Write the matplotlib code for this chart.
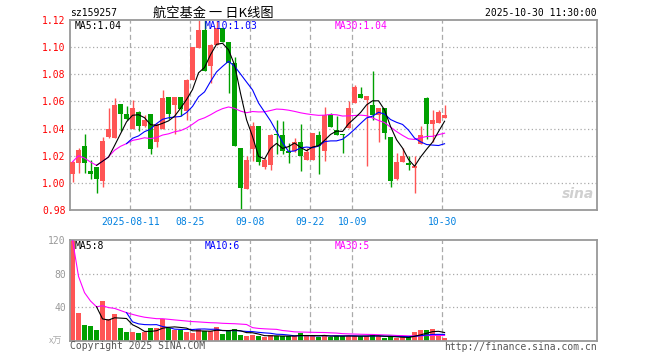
import numpy as np
import pandas as pd
import matplotlib
matplotlib.use("Agg")
import matplotlib.pyplot as plt

plt.rcParams["font.family"] = ["DejaVu Sans Mono", "Noto Sans CJK SC"]

# daily K data (2025-07-28 .. 2025-10-30)
opens = [1.0067, 1.0147, 1.0270, 1.0086, 1.0116, 1.0015, 1.0336, 1.0331, 1.0579, 1.0505,
         1.0400, 1.0525, 1.0417, 1.0505, 1.0299, 1.0397, 1.0630, 1.0571, 1.0630, 1.0532,
         1.0760, 1.0993, 1.1123, 1.0858, 1.1017, 1.1140, 1.1037, 1.0882, 1.0255, 0.9956,
         1.0250, 1.0417, 1.0118, 1.0130, 1.0358, 1.0356, 1.0234, 1.0233, 1.0304, 1.0172,
         1.0172, 1.0356, 1.0238, 1.0498, 1.0388, 1.0358, 1.0405, 1.0588, 1.0652, 1.0613,
         1.0576, 1.0503, 1.0552, 1.0339, 1.0025, 1.0155, 1.0145, 1.0111, 1.0290, 1.0628,
         1.0437, 1.0441, 1.0478]
closes = [1.0155, 1.0245, 1.0147, 1.0067, 1.0030, 1.0307, 1.0397, 1.0571, 1.0505, 1.0468,
          1.0549, 1.0417, 1.0461, 1.0250, 1.0437, 1.0628, 1.0508, 1.0630, 1.0544, 1.0760,
          1.0998, 1.1123, 1.0826, 1.1017, 1.1140, 1.1037, 1.0882, 1.0270, 0.9964, 1.0172,
          1.0417, 1.0155, 1.0172, 1.0356, 1.0353, 1.0233, 1.0221, 1.0304, 1.0196, 1.0231,
          1.0368, 1.0270, 1.0503, 1.0412, 1.0356, 1.0353, 1.0552, 1.0706, 1.0625, 1.0637,
          1.0503, 1.0552, 1.0368, 1.0013, 1.0152, 1.0196, 1.0128, 1.0123, 1.0353, 1.0437,
          1.0461, 1.0520, 1.0500]
highs = [1.0160, 1.0255, 1.0363, 1.0167, 1.0116, 1.0339, 1.0549, 1.0623, 1.0582, 1.0564,
         1.0608, 1.0527, 1.0498, 1.0507, 1.0440, 1.0682, 1.0632, 1.0632, 1.0632, 1.0762,
         1.1000, 1.1200, 1.1200, 1.1020, 1.1189, 1.1142, 1.1040, 1.0931, 1.0257, 1.0196,
         1.0446, 1.0419, 1.0184, 1.0358, 1.0466, 1.0459, 1.0294, 1.0329, 1.0437, 1.0258,
         1.0370, 1.0380, 1.0559, 1.0515, 1.0490, 1.0360, 1.0601, 1.0723, 1.0706, 1.0640,
         1.0821, 1.0554, 1.0554, 1.0341, 1.0221, 1.0258, 1.0196, 1.0196, 1.0417, 1.0630,
         1.0539, 1.0539, 1.0576]
lows = [1.0005, 1.0074, 1.0074, 1.0032, 0.9927, 0.9971, 1.0334, 1.0329, 1.0380, 1.0466,
        1.0398, 1.0380, 1.0415, 1.0214, 1.0263, 1.0395, 1.0471, 1.0363, 1.0490, 1.0466,
        1.0758, 1.0991, 1.0824, 1.0735, 1.1015, 1.1035, 1.0662, 1.0268, 0.9804, 0.9954,
        1.0160, 1.0130, 1.0103, 1.0098, 1.0209, 1.0209, 1.0147, 1.0231, 1.0086, 1.0170,
        1.0170, 1.0062, 1.0160, 1.0410, 1.0354, 1.0220, 1.0403, 1.0586, 1.0623, 1.0123,
        1.0466, 1.0300, 1.0324, 0.9971, 1.0023, 1.0153, 1.0094, 0.9927, 1.0288, 1.0324,
        1.0300, 1.0439, 1.0476]
volumes = [120, 33, 18.4, 17.2, 12.8, 47.6, 26, 32, 15.2, 10.4,
           10.4, 8.8, 9.6, 15.2, 14.4, 25.2, 14.4, 12, 12, 10.4,
           9.2, 14, 11, 11, 16, 8, 13, 14, 7, 5,
           7, 5.6, 4.4, 6, 4.8, 5.6, 5.6, 4.8, 8.8, 4.8,
           5.6, 4.4, 6.8, 4.4, 5.6, 4.8, 5.6, 5.6, 4.8, 5.6,
           6, 5.6, 3.2, 4, 3.2, 4, 4, 10, 12.5, 12.5,
           13.8, 6, 2.8]

tick_idx = [10, 20, 30, 40, 47, 62]
tick_labels = ["2025-08-11", "08-25", "09-08", "09-22", "10-09", "10-30"]

price_ma_text = ["MA5:1.04", "MA10:1.03", "MA30:1.04"]
vol_ma_text = ["MA5:8", "MA10:6", "MA30:5"]

RED = "#ff5555"
GREEN = "#00a000"
GRID = "#aaaaaa"
FRAME = "#999999"
MA_COLORS = ["black", "#0000ff", "#ff00ff"]

df = pd.DataFrame({"open": opens, "high": highs, "low": lows, "close": closes, "vol": volumes})
x = np.arange(len(df))
up = df["close"] >= df["open"]
colors = np.where(up, RED, GREEN)

W, H = 660, 360
fig = plt.figure(figsize=(W / 100, H / 100), dpi=100)


def fx(px):
    return px / W


def fy(py):
    return 1 - py / H


ax = fig.add_axes([fx(70), fy(210), fx(527), 190 / H])
axv = fig.add_axes([fx(70), fy(340.5), fx(527), 100.5 / H])

xlim = (-0.42, 87.4)
grid_x = [i - 0.35 for i in tick_idx]

# --- price panel ---
for yv in [1.00, 1.02, 1.04, 1.06, 1.08, 1.10]:
    ax.axhline(yv, color=GRID, lw=0.9, ls=(0, (1, 2)), zorder=0)
for gx in grid_x:
    ax.axvline(gx, color=GRID, lw=0.9, ls=(0, (4, 2.5)), zorder=0)

ax.vlines(x, df["low"], df["high"], colors=colors, lw=1.0, zorder=2)
body = (df["close"] - df["open"]).abs().clip(lower=0.0004)
ax.bar(x, body, bottom=df[["open", "close"]].min(axis=1), width=0.8,
       color=colors, linewidth=0, zorder=3)

ma5 = df["close"].rolling(5).mean()
ma10 = df["close"].rolling(10).mean()
ma30 = df["close"].rolling(30, min_periods=1).mean()
for s, c in zip([ma30, ma10, ma5], MA_COLORS[::-1]):
    ax.plot(x, s, color=c, lw=0.8, zorder=4)

ax.set_xlim(*xlim)
ax.set_ylim(0.98, 1.12)
ax.set_yticks([0.98, 1.00, 1.02, 1.04, 1.06, 1.08, 1.10, 1.12])
ax.set_yticklabels([f"{v:.2f}" for v in ax.get_yticks()])
ax.set_xticks(grid_x)
ax.set_xticklabels(tick_labels)
ax.tick_params(axis="y", colors="red", labelsize=7, length=0, pad=3)
ax.tick_params(axis="x", colors="#0080e0", labelsize=7, length=0, pad=5)
for sp in ax.spines.values():
    sp.set_color(FRAME)
    sp.set_linewidth(1.3)

for txt, px, c in zip(price_ma_text, [75, 205, 335], MA_COLORS):
    fig.text(fx(px), fy(26), txt, color=c, fontsize=7, va="center", ha="left")

ax.text(0.995, 0.05, "sina", transform=ax.transAxes, ha="right", va="bottom",
        fontsize=10, fontstyle="italic", fontweight="bold", color="#d0d0d0",
        family="DejaVu Sans", zorder=1)

# --- volume panel ---
for yv in [40, 80]:
    axv.axhline(yv, color=GRID, lw=0.9, ls=(0, (1, 2)), zorder=0)
for gx in grid_x:
    axv.axvline(gx, color=GRID, lw=0.9, ls=(0, (4, 2.5)), zorder=0)

axv.bar(x, df["vol"], width=0.8, color=colors, linewidth=0, zorder=2)
vma5 = df["vol"].rolling(5).mean()
vma10 = df["vol"].rolling(10).mean()
vma30 = df["vol"].rolling(30, min_periods=1).mean()
for s, c in zip([vma30, vma10, vma5], MA_COLORS[::-1]):
    axv.plot(x, s, color=c, lw=0.8, zorder=3)

axv.set_xlim(*xlim)
axv.set_ylim(0, 120)
axv.set_yticks([40, 80, 120])
axv.set_yticklabels(["40", "80", "120"])
axv.set_xticks([])
axv.tick_params(axis="y", colors="#999999", labelsize=7, length=0, pad=3)
for sp in axv.spines.values():
    sp.set_color(FRAME)
    sp.set_linewidth(1.3)

for txt, px, c in zip(vol_ma_text, [75, 205, 335], MA_COLORS):
    fig.text(fx(px), fy(246), txt, color=c, fontsize=7, va="center", ha="left")

# --- header / footer texts ---
fig.text(fx(70), fy(13), "sz159257", fontsize=7, va="center", ha="left")
fig.text(fx(213), fy(13), "航空基金 一 日K线图", fontsize=9.5, va="center", ha="center",
         family=["Noto Sans CJK SC", "DejaVu Sans"])
fig.text(fx(597), fy(13), "2025-10-30 11:30:00", fontsize=7, va="center", ha="right")
fig.text(fx(49), fy(341), "x万", fontsize=6.5, va="center", ha="left", color="#aaaaaa",
         family=["Noto Sans CJK SC", "DejaVu Sans"])
fig.text(fx(70), fy(346), "Copyright 2025 SINA.COM", fontsize=7, va="center", ha="left",
         color="#555555")
fig.text(fx(597), fy(347), "http://finance.sina.com.cn", fontsize=7, va="center", ha="right",
         color="#555555")

fig.savefig("out.png", dpi=100)
